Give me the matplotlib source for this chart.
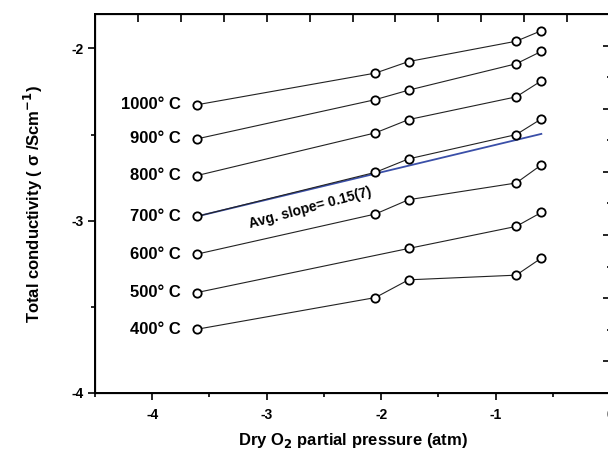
import matplotlib

matplotlib.use("Agg")
import matplotlib.pyplot as plt
import numpy as np

# Gia tri doc tu hinh goc (log10 cua ap suat O2 va do dan dien tong)
x_pts = [-3.61, -2.05, -1.76, -0.82, -0.60]
x_pts_500 = [-3.61, -1.76, -0.82, -0.60]

temps = ["1000° C", "900° C", "800° C", "700° C", "600° C", "500° C", "400° C"]
y_1000 = [-2.327, -2.143, -2.076, -1.958, -1.897]
y_900 = [-2.525, -2.297, -2.242, -2.089, -2.017]
y_800 = [-2.738, -2.490, -2.413, -2.281, -2.188]
y_700 = [-2.975, -2.719, -2.641, -2.500, -2.409]
y_600 = [-3.194, -2.961, -2.878, -2.781, -2.676]
y_500 = [-3.417, -3.161, -3.033, -2.952]
y_400 = [-3.630, -3.446, -3.343, -3.316, -3.217]

fit_x = [-3.61, -0.60]
fit_y = [-2.975, -2.496]
slope_text = "Avg. slope= 0.15(7)"

plt.rcParams["font.family"] = ["Liberation Sans", "DejaVu Sans"]
plt.rcParams["font.weight"] = "bold"
plt.rcParams["mathtext.default"] = "bf"

fig = plt.figure(figsize=(6.08, 4.53), dpi=100)
# truc phai bi cat mot chut o mep hinh nhu anh goc
ax = fig.add_axes([95 / 608, 1 - 393 / 453, 515 / 608, 379 / 453])

series = [y_1000, y_900, y_800, y_700, y_600, y_500, y_400]
for label, ys in zip(temps, series):
    xs = x_pts_500 if len(ys) == 4 else x_pts
    ax.plot(xs, ys, color="#222222", lw=0.8, marker="o", ms=6,
            mfc="white", mec="black", mew=1.3, zorder=3)
    ax.text(-3.75, ys[0], label, ha="right", va="center",
            fontsize=12, fontweight="bold")

ax.plot(fit_x, fit_y, color="#3a4fa8", lw=1.3, zorder=2)
ax.text(-2.62, -2.925, slope_text, rotation=15, ha="center", va="center",
        fontsize=10, fontweight="bold")

ax.set_xlim(-4.5, 0)
ax.set_ylim(-4, -1.8)
ax.set_xticks([-4, -3, -2, -1, 0])
ax.set_xticklabels(["-4", "-3", "-2", "-1", "0"])
ax.set_xticks(np.arange(-4.5, 0.01, 0.5), minor=True)
ax.set_yticks([-4, -3, -2])
ax.set_yticklabels(["-4", "-3", "-2"])
ax.set_yticks([-3.5, -2.5], minor=True)
ax.tick_params(which="major", direction="out", length=5, width=1.2,
               labelsize=10, pad=6)
ax.tick_params(axis="y", which="major", pad=3)
ax.tick_params(which="minor", direction="out", length=3, width=1.2)
for s in ax.spines.values():
    s.set_linewidth(1.4)

ax.set_xlabel("Dry O$_2$ partial pressure (atm)", fontsize=12,
              fontweight="bold", labelpad=6)
ax.set_ylabel("Total conductivity ( σ /Scm$^{-1}$)", fontsize=12,
              fontweight="bold", labelpad=19)

# truc tren va truc phai chi co vach chia huong vao trong
top = ax.twiny()
top.set_xlim(ax.get_xlim())
top.set_xticks(-4.5 + 0.375 * np.arange(1, 12))
top.tick_params(direction="in", length=6, width=1.2, labeltop=False)

right = ax.twinx()
right.set_ylim(ax.get_ylim())
right.set_yticks(-1.8 - 0.18333 * np.arange(1, 12, 2))
right.set_yticks(-1.8 - 0.18333 * np.arange(2, 12, 2), minor=True)
right.tick_params(which="major", direction="in", length=5, width=1.2,
                  labelright=False)
right.tick_params(which="minor", direction="in", length=2.5, width=1.2)

fig.savefig("out.png", dpi=100)
